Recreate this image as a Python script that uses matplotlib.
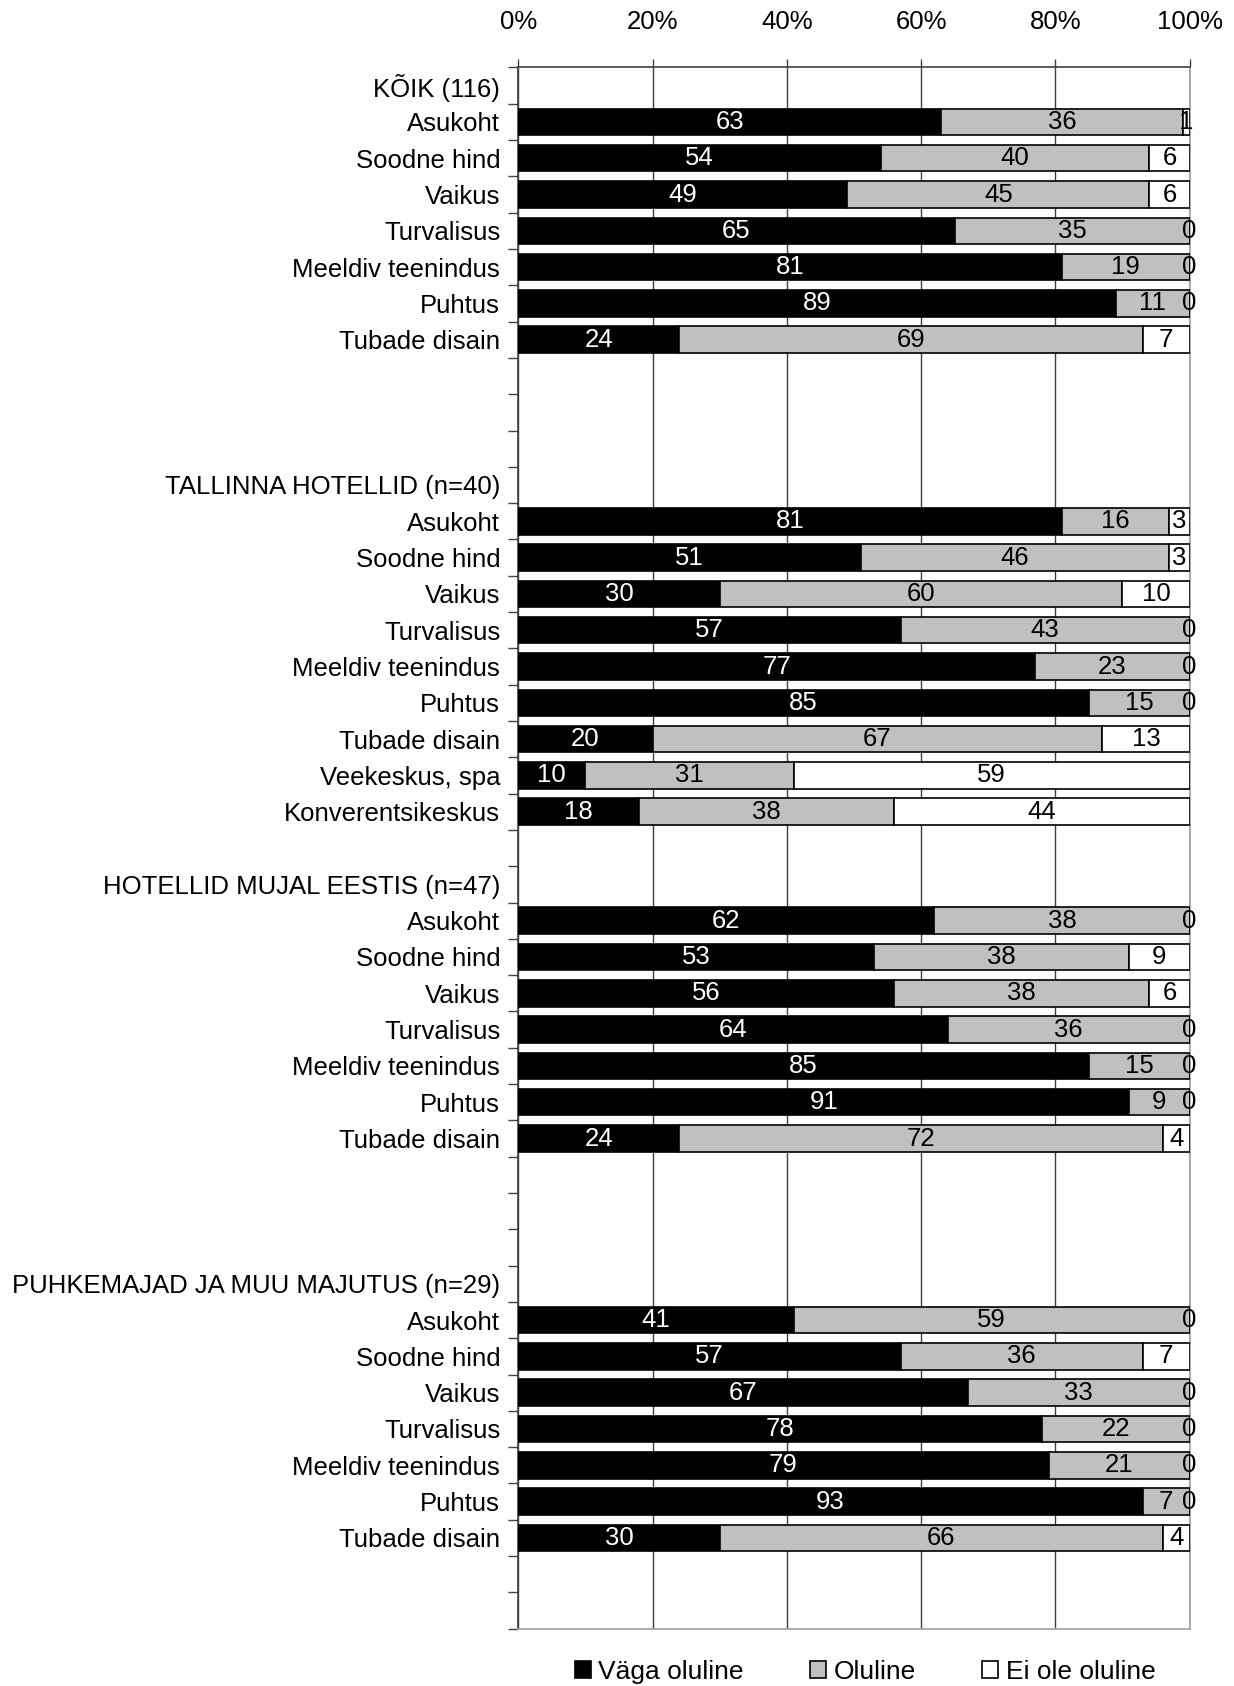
import matplotlib.pyplot as plt
import numpy as np

plt.rcParams['font.family'] = ['Liberation Sans', 'DejaVu Sans']

# andmed (protsendid)
items = ["Asukoht", "Soodne hind", "Vaikus", "Turvalisus",
         "Meeldiv teenindus", "Puhtus", "Tubade disain"]
items_tallinn = items + ["Veekeskus, spa", "Konverentsikeskus"]

koik_header = "KÕIK (116)"
koik_vaga = [63, 54, 49, 65, 81, 89, 24]
koik_oluline = [36, 40, 45, 35, 19, 11, 69]
koik_ei = [1, 6, 6, 0, 0, 0, 7]

tallinn_header = "TALLINNA HOTELLID (n=40)"
tallinn_vaga = [81, 51, 30, 57, 77, 85, 20, 10, 18]
tallinn_oluline = [16, 46, 60, 43, 23, 15, 67, 31, 38]
tallinn_ei = [3, 3, 10, 0, 0, 0, 13, 59, 44]

mujal_header = "HOTELLID MUJAL EESTIS (n=47)"
mujal_vaga = [62, 53, 56, 64, 85, 91, 24]
mujal_oluline = [38, 38, 38, 36, 15, 9, 72]
mujal_ei = [0, 9, 6, 0, 0, 0, 4]

puhke_header = "PUHKEMAJAD JA MUU MAJUTUS (n=29)"
puhke_vaga = [41, 57, 67, 78, 79, 93, 30]
puhke_oluline = [59, 36, 33, 22, 21, 7, 66]
puhke_ei = [0, 7, 0, 0, 0, 0, 4]

series_names = ["Väga oluline", "Oluline", "Ei ole oluline"]
colors = ["#000000", "#C0C0C0", "#FFFFFF"]
text_colors = ["white", "black", "black"]

FS = 18.5

# ridade koostamine (tühjad read gruppide vahel nagu originaalis)
groups = [
    (koik_header, items, koik_vaga, koik_oluline, koik_ei, 3),
    (tallinn_header, items_tallinn, tallinn_vaga, tallinn_oluline, tallinn_ei, 1),
    (mujal_header, items, mujal_vaga, mujal_oluline, mujal_ei, 3),
    (puhke_header, items, puhke_vaga, puhke_oluline, puhke_ei, 2),
]
labels = []
vals = []
for header, names, v1, v2, v3, gap in groups:
    labels.append(header)
    vals.append(None)
    for i, n in enumerate(names):
        labels.append(n)
        vals.append((v1[i], v2[i], v3[i]))
    for _ in range(gap):
        labels.append("")
        vals.append(None)

n_rows = len(labels)
y = np.arange(n_rows)

fig = plt.figure(figsize=(12.34, 16.86), dpi=100)
ax = fig.add_axes([0.42, 0.034, 0.544, 0.926])

for k in range(3):
    for r, v in enumerate(vals):
        if v is None:
            continue
        left = sum(v[:k])
        ax.barh(r, v[k], left=left, height=0.73, color=colors[k],
                edgecolor="black", linewidth=1.2, zorder=3)
        ax.text(left + v[k] / 2, r, str(v[k]), ha="center", va="center",
                color=text_colors[k], fontsize=FS, zorder=4)

ax.set_xlim(0, 100)
ax.set_ylim(n_rows - 0.5, -0.5)
ax.set_yticks(y)
ax.set_yticklabels(labels, fontsize=FS)
ax.set_yticks(np.arange(n_rows + 1) - 0.5, minor=True)
ax.tick_params(axis="y", which="major", length=0, pad=13)
ax.tick_params(axis="y", which="minor", length=7, width=1, color="#404040")

ax.xaxis.tick_top()
ax.set_xticks(np.arange(0, 101, 20))
ax.set_xticklabels([f"{t}%" for t in range(0, 101, 20)], fontsize=FS)
ax.tick_params(axis="x", length=6, width=1, color="#404040", pad=18)

ax.grid(axis="x", color="#404040", linewidth=1, zorder=0)

ax.spines["left"].set_color("#404040")
ax.spines["top"].set_color("#404040")
ax.spines["right"].set_color("#A0A0A0")
ax.spines["bottom"].set_color("#A0A0A0")
for s in ax.spines.values():
    s.set_linewidth(1.2)

# legend
handles = [plt.Rectangle((0, 0), 1, 1, facecolor=c, edgecolor="black", linewidth=1.2)
           for c in colors]
fig.legend(handles, series_names, loc="lower center", bbox_to_anchor=(0.701, -0.013),
           ncol=3, frameon=False, fontsize=FS + 0.5, handlelength=0.6, handleheight=0.6,
           handletextpad=0.3, columnspacing=2.5)

plt.savefig("out.png", dpi=100)
